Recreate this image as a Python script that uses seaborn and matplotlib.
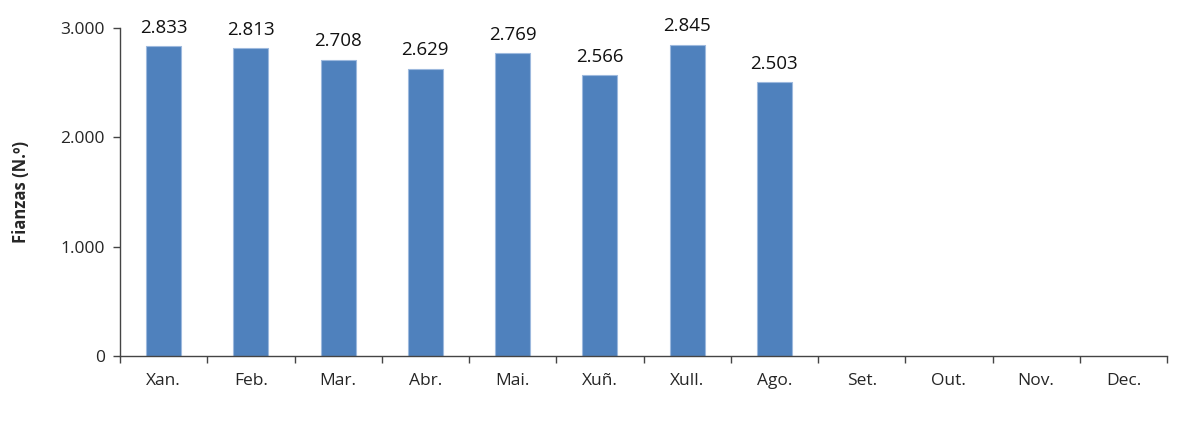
import matplotlib
matplotlib.use("Agg")
import matplotlib.pyplot as plt
import seaborn as sns
import pandas as pd
import numpy as np
from matplotlib.ticker import FuncFormatter, FixedLocator

months = ["Xan.", "Feb.", "Mar.", "Abr.", "Mai.", "Xuñ.", "Xull.", "Ago.", "Set.", "Out.", "Nov.", "Dec."]
data_months = ["Xan.", "Feb.", "Mar.", "Abr.", "Mai.", "Xuñ.", "Xull.", "Ago."]
values = [2833, 2813, 2708, 2629, 2769, 2566, 2845, 2503]
yticks = [0, 1000, 2000, 3000]

sns.set_theme(style="white")
plt.rcParams['font.family'] = ['Open Sans', 'DejaVu Sans']

df = pd.DataFrame({"mes": data_months, "fianzas": values})

fig = plt.figure(figsize=(12, 4.26), dpi=100)
ax = fig.add_axes([0.1, 0.1643, 0.8725, 0.77])

sns.barplot(data=df, x="mes", y="fianzas", order=months, color="#4F81BD",
            width=0.4, saturation=1, edgecolor="#9DB9DE", linewidth=0.8, ax=ax)

def fmt(v):
    return f"{int(v):,}".replace(",", ".")

for cont in ax.containers:
    ax.bar_label(cont, labels=[fmt(v) for v in cont.datavalues], padding=7, fontsize=13.5, color="#111111")

ax.set_ylim(0, 3000)
ax.set_xlim(-0.5, 11.5)
ax.set_yticks(yticks)
ax.yaxis.set_major_formatter(FuncFormatter(lambda v, p: fmt(v)))
ax.tick_params(axis="y", labelsize=12.5, length=5, width=1, color="#444444", left=True, direction="out", pad=6)
ax.xaxis.set_minor_locator(FixedLocator(np.arange(-0.5, 12, 1)))
ax.tick_params(axis="x", which="major", length=0, labelsize=12.5, pad=12)
ax.tick_params(axis="x", which="minor", length=5, width=1, color="#444444", bottom=True, direction="out")
ax.set_xlabel("")
ax.set_ylabel("Fianzas (N.º)", fontsize=12, fontweight="bold", labelpad=22)

for s in ["top", "right"]:
    ax.spines[s].set_visible(False)
for s in ["left", "bottom"]:
    ax.spines[s].set_color("#444444")
    ax.spines[s].set_linewidth(1)

fig.savefig("out.png", dpi=100)
